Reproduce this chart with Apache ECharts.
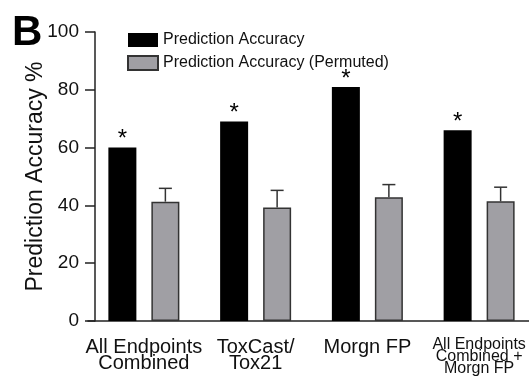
<!DOCTYPE html>
<html>
<head>
<meta charset="utf-8">
<style>
  html, body { margin: 0; padding: 0; background: #fff; }
  #chart { width: 529px; height: 376px; }
</style>
<script src="https://cdn.jsdelivr.net/npm/echarts@6/dist/echarts.min.js"></script>
</head>
<body>
<div id="chart"></div>
<script>
// Categories and values
const categories = [
  'All Endpoints\nCombined',
  'ToxCast/\nTox21',
  'Morgn FP',
  'All Endpoints\nCombined +\nMorgn FP'
];
const accuracy = [60, 69, 81, 66];
const permuted = [41.3, 39.3, 42.8, 41.4];
const permutedErr = [4.6, 5.9, 4.4, 4.9];
const yTicks = [0, 20, 40, 60, 80, 100];
const seriesNames = ['Prediction Accuracy', 'Prediction Accuracy (Permuted)'];

const FONT = 'Liberation Sans, Arial, Helvetica, sans-serif';
const BAR_W = 28;
const BAR_GAP = 15;
const ERR_OFFSET = (BAR_W + BAR_GAP) / 2;

const chart = echarts.init(document.getElementById('chart'), null, { renderer: 'canvas' });

const xData = categories.map(function (c) {
  const lines = c.split('\n').length;
  if (lines > 2) {
    return { value: c, textStyle: { fontSize: 16, lineHeight: 12 } };
  }
  return c;
});

chart.setOption({
  backgroundColor: '#fff',
  animation: false,
  graphic: [{
    type: 'text',
    left: 12,
    top: 12,
    style: { text: 'B', font: 'bold 42px ' + FONT, fill: '#000' }
  }],
  legend: {
    data: seriesNames,
    orient: 'vertical',
    left: 127,
    top: 32,
    padding: 0,
    itemWidth: 30,
    itemHeight: 14,
    itemGap: 7,
    icon: 'rect',
    textStyle: { fontFamily: FONT, fontSize: 16, color: '#111' }
  },
  grid: {
    left: 88, right: -6, top: 32, bottom: 55,
    containLabel: false, outerBoundsMode: 'none'
  },
  xAxis: {
    type: 'category',
    data: xData,
    axisLine: { lineStyle: { color: '#222', width: 1.5 } },
    axisTick: { alignWithLabel: true, length: 10, lineStyle: { color: '#222', width: 1.5 } },
    axisLabel: {
      fontFamily: FONT, fontSize: 20, lineHeight: 16, color: '#111',
      margin: 18, interval: 0
    }
  },
  yAxis: {
    type: 'value',
    min: yTicks[0],
    max: yTicks[yTicks.length - 1],
    interval: yTicks[1] - yTicks[0],
    offset: -7,
    name: 'Prediction Accuracy %',
    nameLocation: 'middle',
    nameGap: 48,
    nameMoveOverlap: false,
    nameTextStyle: { fontFamily: FONT, fontSize: 23, color: '#111' },
    axisLine: { show: true, lineStyle: { color: '#222', width: 1.5 } },
    axisTick: { show: true, length: 10, lineStyle: { color: '#222', width: 1.5 } },
    axisLabel: { fontFamily: FONT, fontSize: 19, color: '#111', margin: 16 },
    splitLine: { show: false }
  },
  series: [
    {
      name: seriesNames[0],
      type: 'bar',
      data: accuracy,
      barWidth: BAR_W,
      barGap: (BAR_GAP / BAR_W * 100) + '%',
      itemStyle: { color: '#000' },
      label: {
        show: true, position: 'top', distance: -4,
        formatter: '*', fontFamily: FONT, fontSize: 24, color: '#000'
      }
    },
    {
      name: seriesNames[1],
      type: 'bar',
      data: permuted,
      barWidth: BAR_W,
      itemStyle: { color: '#a09fa4', borderColor: '#333', borderWidth: 1.5 }
    },
    {
      type: 'custom',
      name: 'err',
      data: permuted.map(function (v, i) { return [i, v, permutedErr[i]]; }),
      z: 1,
      renderItem: function (params, api) {
        const base = api.coord([api.value(0), api.value(1)]);
        const top = api.coord([api.value(0), api.value(1) + api.value(2)]);
        const x = base[0] + ERR_OFFSET;
        const half = 6.5;
        const style = { stroke: '#333', lineWidth: 1.5 };
        return {
          type: 'group',
          children: [
            { type: 'line', shape: { x1: x, y1: base[1], x2: x, y2: top[1] }, style: style },
            { type: 'line', shape: { x1: x - half, y1: top[1], x2: x + half, y2: top[1] }, style: style }
          ]
        };
      }
    }
  ]
});
</script>
</body>
</html>
